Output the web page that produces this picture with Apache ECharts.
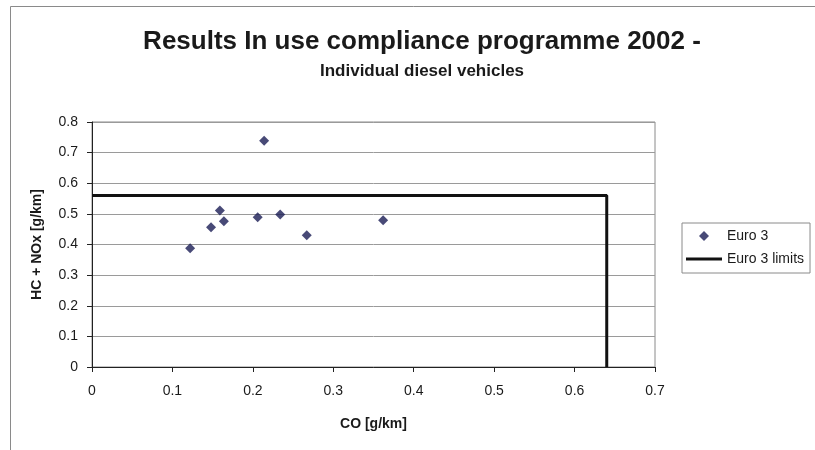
<!DOCTYPE html>
<html>
<head>
<meta charset="utf-8">
<script src="https://cdn.jsdelivr.net/npm/echarts@6/dist/echarts.min.js"></script>
<style>
  html, body { margin: 0; padding: 0; background: #fff; }
  #results { width: 815px; height: 450px; }
</style>
</head>
<body>
<div id="results"></div>
<script>
// individual diesel vehicles (Euro 3)
var coValues = [0.122, 0.148, 0.159, 0.164, 0.206, 0.214, 0.234, 0.267, 0.362];
var hcNoxValues = [0.388, 0.456, 0.511, 0.476, 0.489, 0.739, 0.498, 0.430, 0.479];

// Euro 3 limit box
var limitCo = [0, 0.64, 0.64];
var limitHcNox = [0.56, 0.56, 0];

var xTicks = [0, 0.1, 0.2, 0.3, 0.4, 0.5, 0.6, 0.7];
var yTicks = [0, 0.1, 0.2, 0.3, 0.4, 0.5, 0.6, 0.7, 0.8];

function results() {

	var myChart = echarts.init(document.getElementById('results'));

	var points = coValues.map(function (c, i) { return [c, hcNoxValues[i]]; });
	var limits = limitCo.map(function (c, i) { return [c, limitHcNox[i]]; });

	var font = 'Liberation Sans, Arial, sans-serif';

	var option = {
		backgroundColor: '#fff',
		animation: false,
		textStyle: { fontFamily: font },
		title: {
			text: 'Results In use compliance programme 2002 -',
			subtext: 'Individual diesel vehicles',
			left: 417,
			textAlign: 'center',
			top: 24,
			itemGap: 8,
			textStyle: { fontFamily: font, fontSize: 26, fontWeight: 'bold', color: '#1a1a1a' },
			subtextStyle: { fontFamily: font, fontSize: 17, fontWeight: 'bold', color: '#1a1a1a' }
		},
		graphic: [{
			type: 'polyline',
			shape: { points: [[10.5, 460], [10.5, 6.5], [820, 6.5]] },
			style: { stroke: '#8a8a8a', fill: null, lineWidth: 1 },
			silent: true
		}],
		legend: {
			orient: 'vertical',
			left: 682,
			top: 223,
			width: 128,
			padding: [6, 6, 7, 4],
			itemGap: 9,
			itemWidth: 36,
			itemHeight: 10,
			symbolKeepAspect: true,
			borderColor: '#8a8a8a',
			borderWidth: 1,
			backgroundColor: '#fff',
			textStyle: { fontFamily: font, fontSize: 14, color: '#1a1a1a' },
			data: [
				{ name: 'Euro 3', icon: 'path://M5,0L10,5L5,10L0,5Z' },
				{ name: 'Euro 3 limits', icon: 'path://M0,0L36,0L36,3L0,3Z' }
			]
		},
		grid: {
			left: 92,
			right: 160,
			top: 122,
			bottom: 83,
			show: true,
			borderColor: '#8a8a8a',
			borderWidth: 1
		},
		xAxis: {
			type: 'value',
			min: xTicks[0],
			max: xTicks[xTicks.length - 1],
			interval: 0.1,
			name: 'CO [g/km]',
			nameLocation: 'middle',
			nameGap: 50,
			nameTextStyle: { fontFamily: font, fontSize: 14, fontWeight: 'bold', color: '#1a1a1a' },
			axisLine: { lineStyle: { color: '#222', width: 1 } },
			axisTick: { show: true, length: 5, lineStyle: { color: '#222' } },
			axisLabel: {
				fontFamily: font, fontSize: 14, color: '#1a1a1a', margin: 17,
				formatter: function (v) { return String(+v.toFixed(1)); }
			},
			splitLine: { show: false }
		},
		yAxis: {
			type: 'value',
			min: yTicks[0],
			max: yTicks[yTicks.length - 1],
			interval: 0.1,
			name: 'HC + NOx [g/km]',
			nameLocation: 'middle',
			nameGap: 48,
			nameTextStyle: { fontFamily: font, fontSize: 14, fontWeight: 'bold', color: '#1a1a1a' },
			axisLine: { show: true, lineStyle: { color: '#222', width: 1 } },
			axisTick: { show: true, length: 5, lineStyle: { color: '#222' } },
			axisLabel: {
				fontFamily: font, fontSize: 14, color: '#1a1a1a', margin: 14,
				formatter: function (v) { return String(+v.toFixed(1)); }
			},
			splitLine: { show: true, lineStyle: { color: '#9a9a9a', width: 1 } }
		},
		series: [{
			name: 'Euro 3',
			type: 'scatter',
			symbol: 'diamond',
			symbolSize: 10,
			itemStyle: { color: '#1a1d55' },
			data: points,
			z: 3
		}, {
			name: 'Euro 3 limits',
			type: 'line',
			symbol: 'none',
			lineStyle: { color: '#111', width: 3 },
			itemStyle: { color: '#111' },
			data: limits,
			z: 2
		}]
	};

	myChart.setOption(option);
	window.addEventListener('resize', function () {
		myChart.resize();
	});
}

results();
</script>
</body>
</html>
